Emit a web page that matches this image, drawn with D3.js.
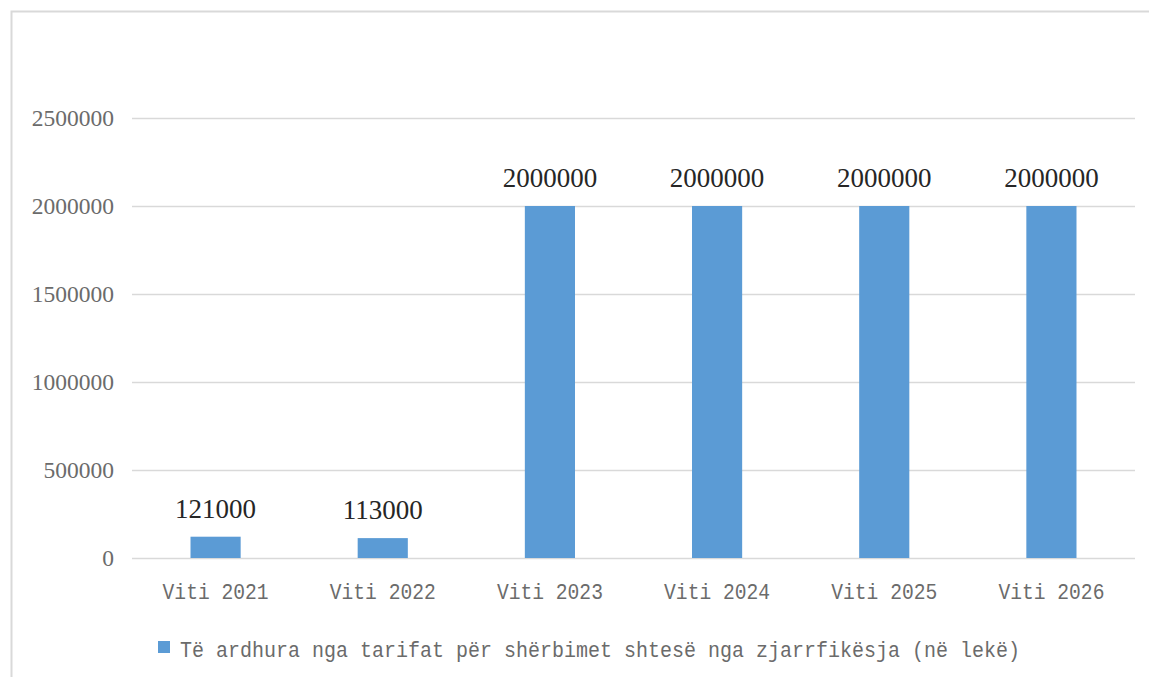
<!DOCTYPE html>
<html><head><meta charset="utf-8">
<script src="https://cdn.jsdelivr.net/npm/d3@7"></script>
<style>body{margin:0;background:#fff}svg{display:block}</style>
</head><body>
<script>
const categories = ["Viti 2021","Viti 2022","Viti 2023","Viti 2024","Viti 2025","Viti 2026"];
const values = [121000,113000,2000000,2000000,2000000,2000000];
const yTicks = [0,500000,1000000,1500000,2000000,2500000];
const seriesName = "Të ardhura nga tarifat për shërbimet shtesë nga zjarrfikësja (në lekë)";

(function () {
const W = 1149, H = 677;
const svg = d3.select("body").append("svg").attr("width", W).attr("height", H);
svg.append("rect").attr("x", 11.5).attr("y", 11.5).attr("width", W).attr("height", H)
  .attr("fill", "#fff").attr("stroke", "#d9d9d9").attr("stroke-width", 2);

const pL = 132, pR = 1135, pT = 118, pB = 558;
const x = d3.scaleBand().domain(categories).range([pL, pR]).paddingInner(0.7).paddingOuter(0.35);
const y = d3.scaleLinear().domain([0, 2500000]).range([pB, pT]);

const yAxis = svg.append("g").attr("transform", `translate(${pL},0)`)
  .call(d3.axisLeft(y).tickValues(yTicks).tickSize(-(pR - pL)).tickPadding(18).tickFormat(d3.format("d")));
yAxis.select(".domain").remove();
yAxis.selectAll(".tick line").attr("stroke", "#d9d9d9").attr("stroke-width", 1.5);
yAxis.selectAll(".tick text").attr("fill", "#6b6b6b")
  .style("font-family", "'Liberation Serif', 'Times New Roman', serif").style("font-size", "23.5px");

svg.append("g").selectAll("rect").data(values).join("rect")
  .attr("x", (d, i) => x(categories[i]))
  .attr("y", d => y(d))
  .attr("width", x.bandwidth())
  .attr("height", d => y(0) - y(d))
  .attr("fill", "#5b9bd5");

svg.append("g").selectAll("text").data(values).join("text")
  .attr("x", (d, i) => x(categories[i]) + x.bandwidth() / 2)
  .attr("y", d => y(d) - 19)
  .attr("text-anchor", "middle")
  .attr("fill", "#262626")
  .style("font-family", "'Liberation Serif', 'Times New Roman', serif").style("font-size", "27px")
  .text(d => d);

const xAxis = svg.append("g").attr("transform", `translate(0,${pB})`)
  .call(d3.axisBottom(x).tickSize(0).tickPadding(25));
xAxis.select(".domain").remove();
xAxis.selectAll(".tick text").attr("fill", "#6b6b6b")
  .attr("textLength", 106).attr("lengthAdjust", "spacingAndGlyphs")
  .style("font-family", "'Liberation Mono', 'DejaVu Sans Mono', monospace").style("font-size", "22.5px");

const lg = svg.append("g");
lg.append("rect").attr("x", 158).attr("y", 641).attr("width", 12).attr("height", 12).attr("fill", "#5b9bd5");
lg.append("text").attr("x", 180).attr("y", 657).attr("fill", "#6b6b6b")
  .attr("textLength", 840).attr("lengthAdjust", "spacingAndGlyphs")
  .style("font-family", "'Liberation Mono', 'DejaVu Sans Mono', monospace").style("font-size", "22.5px")
  .text(seriesName);
})();
</script>
</body></html>
